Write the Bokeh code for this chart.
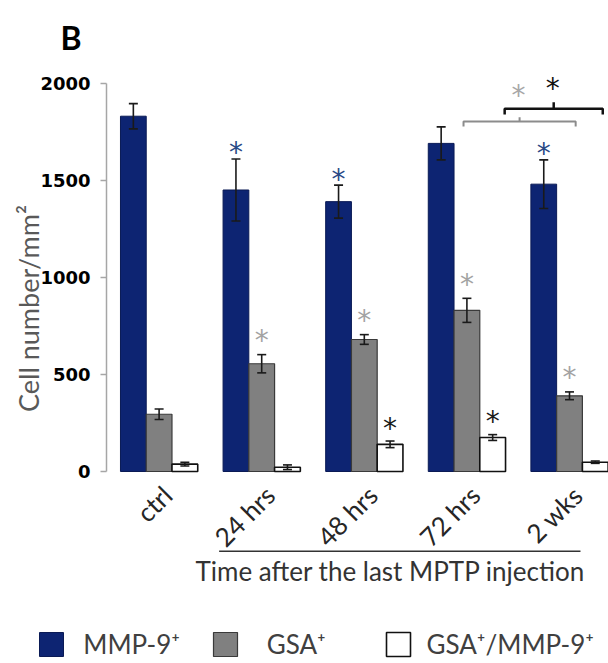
import math
from bokeh.plotting import figure
from bokeh.models import (Range1d, FixedTicker, Whisker, ColumnDataSource, TeeHead,
                          Legend, LegendItem)
from bokeh.core.properties import value
from bokeh.embed import file_html
from bokeh.resources import INLINE

# ---------------- data ----------------
categories = ["ctrl", "24 hrs", "48 hrs", "72 hrs", "2 wks"]
series_names = ["MMP-9\u207a", "GSA\u207a", "GSA\u207a/MMP-9\u207a"]
mmp9 = [1830, 1450, 1390, 1690, 1480]
mmp9_err = [65, 160, 85, 85, 125]
gsa = [295, 555, 680, 830, 390]
gsa_err = [27, 47, 25, 62, 20]
gsa_mmp9 = [38, 22, 140, 175, 48]
gsa_mmp9_err = [10, 12, 17, 15, 6]
y_ticks = [0, 500, 1000, 1500, 2000]
sig_mmp9 = [False, True, True, False, True]
sig_gsa = [False, True, True, True, True]
sig_gsa_mmp9 = [False, False, True, True, False]
x_title = "Time after the last MPTP injection"
y_title = "Cell number/mm\u00b2"
panel_letter = "B"

NAVY = "#0D2472"
GREY = "#808080"
BLUE_AST = "#2A4A86"
GREY_AST = "#A3A3A3"
LATO = value("Lato")

p = figure(width=608, height=663, output_backend="svg", toolbar_location=None,
           x_range=Range1d(-1.5458, 4.380), y_range=Range1d(-988.9, 2426.0),
           x_axis_type=None, title=None,
           min_border_left=0, min_border_right=0, min_border_top=0, min_border_bottom=0)
p.outline_line_color = None
p.ygrid.visible = False
p.background_fill_color = "white"
p.border_fill_color = "white"

yax = p.yaxis[0]
yax.fixed_location = -0.5127
yax.bounds = (0, 2000)
yax.ticker = FixedTicker(ticks=y_ticks)
yax.axis_line_color = "#A6A6A6"
yax.axis_line_width = 1.5
yax.major_tick_line_color = "#A6A6A6"
yax.major_tick_line_width = 1.5
yax.major_tick_out = 6
yax.major_tick_in = 0
yax.minor_tick_line_color = None
yax.major_label_text_font = "DejaVu Sans"
yax.major_label_text_font_style = "bold"
yax.major_label_text_font_size = "18px"
yax.major_label_text_color = "black"
yax.major_label_standoff = 10

W = 0.251
idx = list(range(len(categories)))
x_navy = [i - W for i in idx]
x_grey = [float(i) for i in idx]
x_white = [i + W for i in idx]

r_navy = p.vbar(x=x_navy, top=mmp9, width=W, bottom=0, fill_color=NAVY,
                line_color="#0A1A55", line_width=1)
r_grey = p.vbar(x=x_grey, top=gsa, width=W, bottom=0, fill_color=GREY,
                line_color="#3A3A3A", line_width=1.2)
r_white = p.vbar(x=x_white, top=gsa_mmp9, width=W, bottom=0, fill_color="white",
                 line_color="#111111", line_width=1.6)

def add_err(xs, vals, errs, color):
    src = ColumnDataSource(dict(x=xs, upper=[v + e for v, e in zip(vals, errs)],
                                lower=[v - e for v, e in zip(vals, errs)]))
    w = Whisker(base="x", upper="upper", lower="lower", source=src,
                line_color=color, line_width=1.6,
                upper_head=TeeHead(size=9, line_color=color, line_width=1.6),
                lower_head=TeeHead(size=9, line_color=color, line_width=1.6),
                level="annotation")
    p.add_layout(w)

add_err(x_navy, mmp9, mmp9_err, "#1a1a1a")
add_err(x_grey, gsa, gsa_err, "#1a1a1a")
add_err(x_white, gsa_mmp9, gsa_mmp9_err, "#1a1a1a")

def add_stars(xs, vals, errs, flags, color, gap):
    sx = [x for x, f in zip(xs, flags) if f]
    sy = [v + e for v, e, f in zip(vals, errs, flags) if f]
    p.text(x=sx, y=sy, text=["*"] * len(sx), text_font=value("DejaVu Sans"),
           text_font_size="28px", text_color=color, text_align="center",
           text_baseline="middle", y_offset=-gap)

add_stars(x_navy, mmp9, mmp9_err, sig_mmp9, BLUE_AST, 6)
add_stars(x_grey, gsa, gsa_err, sig_gsa, GREY_AST, 14)
add_stars(x_white, gsa_mmp9, gsa_mmp9_err, sig_gsa_mmp9, "#1a1a1a", 13)

# comparison brackets: 72 hrs vs 2 wks
i72 = categories.index("72 hrs")
i2w = categories.index("2 wks")
brackets = [
    dict(x0=i72 - 0.033, x1=i2w + 0.06, y=1803, drop=26, tick=22,
         color="#8C8C8C", lw=2, star="#A8A8A8", sy=1936),
    dict(x0=i72 + 0.368, x1=i2w + 0.324, y=1868, drop=29, tick=34,
         color="#111111", lw=2.5, star="#111111", sy=1975),
]
for b in brackets:
    xm = (b["x0"] + b["x1"]) / 2
    p.multi_line(xs=[[b["x0"], b["x0"], b["x1"], b["x1"]], [xm, xm]],
                 ys=[[b["y"] - b["drop"], b["y"], b["y"], b["y"] - b["drop"]],
                     [b["y"], b["y"] + b["tick"]]],
                 line_color=b["color"], line_width=b["lw"])
    p.text(x=[xm - 0.01], y=[b["sy"]], text=["*"], text_font=value("DejaVu Sans"),
           text_font_size="28px", text_color=b["star"], text_align="center",
           text_baseline="middle")

# category labels
p.text(x=[i + 0.08 for i in idx], y=[-98] * len(idx), text=categories,
       angle=math.pi / 4, text_align="right", text_baseline="middle",
       text_font=LATO, text_font_size="26px", text_color="#262626")

# separator line & x title
i24 = categories.index("24 hrs")
p.segment(x0=[i24 - 0.415], y0=[-410.5], x1=[i2w + 0.107], y1=[-410.5],
          line_color="#333333", line_width=1.6)
p.text(x=[2.255], y=[-512], text=[x_title], text_align="center",
       text_baseline="alphabetic", text_font=LATO, text_font_size="26px",
       text_color="#333333")

# panel letter and y title
p.text(x=[-0.961], y=[2235], text=[panel_letter], text_font=LATO,
       text_font_style="bold", text_font_size="32px", text_color="black",
       text_align="left", text_baseline="alphabetic")
p.text(x=[-1.273], y=[839.6], text=[y_title], angle=math.pi / 2,
       text_font=LATO, text_font_size="27px", text_color="#595959",
       text_align="center", text_baseline="middle")

# legend (three separate entries)
for r, lab, lx, so in [(r_navy, series_names[0], 36.3, 17),
                       (r_grey, series_names[1], 209.7, 27),
                       (r_white, series_names[2], 382.5, 14)]:
    lg = Legend(items=[LegendItem(label=value(lab), renderers=[r])],
                location=(lx, 3), orientation="horizontal",
                glyph_width=30, glyph_height=30, label_height=30,
                label_standoff=so, padding=0, margin=0, spacing=0,
                border_line_color=None, background_fill_alpha=0,
                label_text_font="Lato", label_text_font_size="26px",
                label_text_color="#404040")
    p.add_layout(lg)

open("out.html", "w").write(file_html(p, INLINE))
